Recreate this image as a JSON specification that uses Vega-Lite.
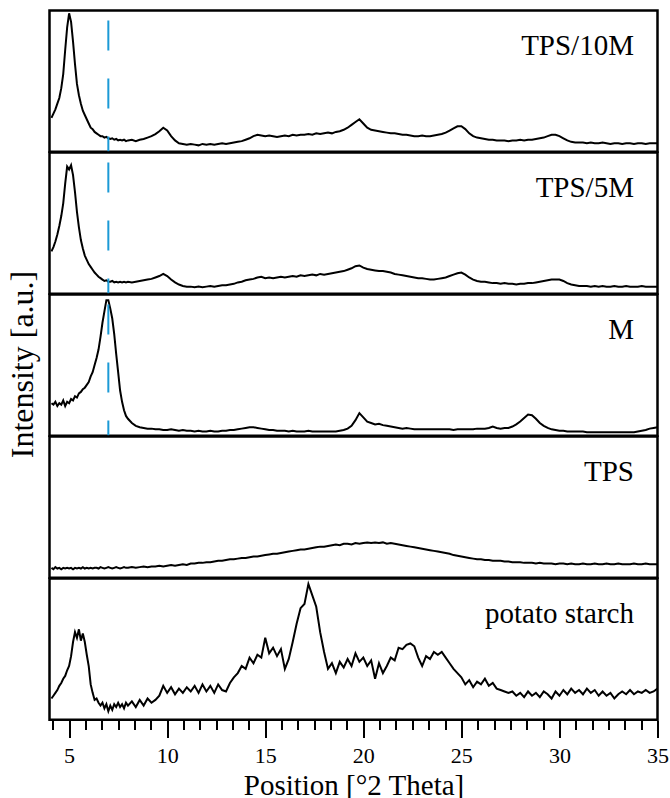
{
"$schema": "https://vega.github.io/schema/vega-lite/v6.json",
"background": "white",
"padding": {"left": 5.5, "top": 7.5, "right": 12, "bottom": 0},
"bounds": "flush",
"data": {"values": [
{"x":4.1,"TPS/10M":24,"TPS/5M":30,"M":23,"TPS":7,"potato starch":15},
{"x":4.2,"TPS/10M":27,"TPS/5M":33,"M":22,"TPS":6,"potato starch":17},
{"x":4.3,"TPS/10M":30,"TPS/5M":37,"M":24,"TPS":7.5,"potato starch":19},
{"x":4.4,"TPS/10M":34,"TPS/5M":42,"M":21,"TPS":6.5,"potato starch":21},
{"x":4.5,"TPS/10M":38,"TPS/5M":48,"M":23,"TPS":7,"potato starch":24},
{"x":4.6,"TPS/10M":45,"TPS/5M":55,"M":22,"TPS":6,"potato starch":26},
{"x":4.7,"TPS/10M":55,"TPS/5M":64,"M":25,"TPS":7,"potato starch":29},
{"x":4.8,"TPS/10M":72,"TPS/5M":78,"M":21,"TPS":6.5,"potato starch":31},
{"x":4.9,"TPS/10M":88,"TPS/5M":90,"M":24,"TPS":7,"potato starch":35},
{"x":5.0,"TPS/10M":98,"TPS/5M":88,"M":23,"TPS":6.5,"potato starch":38},
{"x":5.1,"TPS/10M":92,"TPS/5M":91,"M":26,"TPS":7,"potato starch":45},
{"x":5.2,"TPS/10M":78,"TPS/5M":84,"M":25,"TPS":6,"potato starch":55},
{"x":5.3,"TPS/10M":62,"TPS/5M":72,"M":28,"TPS":7,"potato starch":62},
{"x":5.4,"TPS/10M":48,"TPS/5M":58,"M":27,"TPS":6.5,"potato starch":58},
{"x":5.5,"TPS/10M":40,"TPS/5M":47,"M":30,"TPS":7,"potato starch":64},
{"x":5.6,"TPS/10M":34,"TPS/5M":38,"M":31,"TPS":6.5,"potato starch":56},
{"x":5.7,"TPS/10M":29,"TPS/5M":32,"M":33,"TPS":7.5,"potato starch":61},
{"x":5.8,"TPS/10M":26,"TPS/5M":27,"M":34,"TPS":6.5,"potato starch":55},
{"x":5.9,"TPS/10M":23,"TPS/5M":24,"M":36,"TPS":7,"potato starch":46},
{"x":6.0,"TPS/10M":20,"TPS/5M":21,"M":38,"TPS":6.5,"potato starch":38},
{"x":6.1,"TPS/10M":17,"TPS/5M":19,"M":42,"TPS":7,"potato starch":25},
{"x":6.2,"TPS/10M":16,"TPS/5M":17,"M":45,"TPS":6.5,"potato starch":19},
{"x":6.3,"TPS/10M":14,"TPS/5M":15,"M":50,"TPS":7,"potato starch":14},
{"x":6.4,"TPS/10M":13,"TPS/5M":13.5,"M":55,"TPS":7,"potato starch":15},
{"x":6.5,"TPS/10M":12,"TPS/5M":12,"M":61,"TPS":6.5,"potato starch":12},
{"x":6.6,"TPS/10M":11,"TPS/5M":11,"M":70,"TPS":7.5,"potato starch":10},
{"x":6.7,"TPS/10M":11,"TPS/5M":10,"M":80,"TPS":7,"potato starch":12},
{"x":6.8,"TPS/10M":10,"TPS/5M":9,"M":88,"TPS":6.5,"potato starch":8},
{"x":6.9,"TPS/10M":10.5,"TPS/5M":9.5,"M":96,"TPS":7,"potato starch":11},
{"x":7.0,"TPS/10M":9.5,"TPS/5M":8.5,"M":96,"TPS":7.5,"potato starch":6},
{"x":7.1,"TPS/10M":9,"TPS/5M":8.5,"M":90,"TPS":7,"potato starch":10},
{"x":7.2,"TPS/10M":9.5,"TPS/5M":9,"M":83,"TPS":6.5,"potato starch":7},
{"x":7.3,"TPS/10M":8.5,"TPS/5M":8,"M":72,"TPS":7,"potato starch":11},
{"x":7.4,"TPS/10M":9,"TPS/5M":8.5,"M":58,"TPS":7.5,"potato starch":9},
{"x":7.5,"TPS/10M":8,"TPS/5M":8,"M":45,"TPS":7,"potato starch":12},
{"x":7.6,"TPS/10M":8.5,"TPS/5M":8.5,"M":32,"TPS":6.5,"potato starch":9},
{"x":7.7,"TPS/10M":8,"TPS/5M":8,"M":24,"TPS":7,"potato starch":11},
{"x":7.8,"TPS/10M":8.5,"TPS/5M":8.5,"M":18,"TPS":7.5,"potato starch":8},
{"x":7.9,"TPS/10M":7.5,"TPS/5M":8,"M":14,"TPS":7,"potato starch":12},
{"x":8.0,"TPS/10M":8,"TPS/5M":8.5,"M":12,"TPS":7,"potato starch":10},
{"x":8.2,"TPS/10M":8.5,"TPS/5M":8,"M":9,"TPS":7.5,"potato starch":13},
{"x":8.4,"TPS/10M":7.5,"TPS/5M":8.5,"M":7,"TPS":7,"potato starch":9},
{"x":8.6,"TPS/10M":8.5,"TPS/5M":9,"M":6,"TPS":7.5,"potato starch":14},
{"x":8.8,"TPS/10M":9,"TPS/5M":9.5,"M":5.5,"TPS":8,"potato starch":10},
{"x":9.0,"TPS/10M":10,"TPS/5M":10,"M":5,"TPS":7.5,"potato starch":15},
{"x":9.2,"TPS/10M":11,"TPS/5M":10.5,"M":5,"TPS":8,"potato starch":12},
{"x":9.4,"TPS/10M":12.5,"TPS/5M":11.5,"M":4.5,"TPS":8,"potato starch":14},
{"x":9.6,"TPS/10M":14.5,"TPS/5M":12.5,"M":4.5,"TPS":8.5,"potato starch":17},
{"x":9.8,"TPS/10M":17,"TPS/5M":14,"M":4,"TPS":8,"potato starch":24},
{"x":10.0,"TPS/10M":15,"TPS/5M":12.5,"M":4,"TPS":8.5,"potato starch":19},
{"x":10.2,"TPS/10M":11,"TPS/5M":10,"M":4.5,"TPS":9,"potato starch":23},
{"x":10.4,"TPS/10M":8,"TPS/5M":8,"M":4,"TPS":8.5,"potato starch":18},
{"x":10.6,"TPS/10M":6,"TPS/5M":6.5,"M":3.5,"TPS":9,"potato starch":22},
{"x":10.8,"TPS/10M":5.5,"TPS/5M":5.5,"M":4,"TPS":9.5,"potato starch":19},
{"x":11.0,"TPS/10M":5,"TPS/5M":5,"M":3.5,"TPS":9,"potato starch":23},
{"x":11.2,"TPS/10M":5.5,"TPS/5M":5,"M":3.5,"TPS":10,"potato starch":20},
{"x":11.4,"TPS/10M":5,"TPS/5M":4.5,"M":3,"TPS":10,"potato starch":24},
{"x":11.6,"TPS/10M":4.5,"TPS/5M":5,"M":3.5,"TPS":10.5,"potato starch":19},
{"x":11.8,"TPS/10M":5.5,"TPS/5M":4.5,"M":3,"TPS":10.5,"potato starch":25},
{"x":12.0,"TPS/10M":5,"TPS/5M":5,"M":3,"TPS":11,"potato starch":20},
{"x":12.2,"TPS/10M":5.5,"TPS/5M":5.5,"M":3.5,"TPS":11,"potato starch":24},
{"x":12.4,"TPS/10M":5,"TPS/5M":5,"M":3,"TPS":11.5,"potato starch":19},
{"x":12.6,"TPS/10M":5.5,"TPS/5M":5.5,"M":3,"TPS":12,"potato starch":25},
{"x":12.8,"TPS/10M":6,"TPS/5M":6,"M":3.5,"TPS":12,"potato starch":21},
{"x":13.0,"TPS/10M":5.5,"TPS/5M":6,"M":3.5,"TPS":12.5,"potato starch":20},
{"x":13.2,"TPS/10M":6,"TPS/5M":6.5,"M":4,"TPS":13,"potato starch":26},
{"x":13.4,"TPS/10M":6.5,"TPS/5M":7,"M":4,"TPS":13,"potato starch":30},
{"x":13.6,"TPS/10M":7,"TPS/5M":8,"M":4.5,"TPS":13.5,"potato starch":33},
{"x":13.8,"TPS/10M":7.5,"TPS/5M":8.5,"M":5,"TPS":14,"potato starch":38},
{"x":14.0,"TPS/10M":8.5,"TPS/5M":9.5,"M":5.5,"TPS":14,"potato starch":36},
{"x":14.2,"TPS/10M":9.5,"TPS/5M":10,"M":6,"TPS":14.5,"potato starch":44},
{"x":14.4,"TPS/10M":11,"TPS/5M":10.5,"M":6,"TPS":15,"potato starch":40},
{"x":14.6,"TPS/10M":12,"TPS/5M":11.5,"M":5.5,"TPS":15,"potato starch":46},
{"x":14.8,"TPS/10M":11.5,"TPS/5M":12,"M":5,"TPS":15.5,"potato starch":44},
{"x":15.0,"TPS/10M":11,"TPS/5M":11,"M":4.5,"TPS":16,"potato starch":58},
{"x":15.2,"TPS/10M":11.5,"TPS/5M":11.5,"M":4,"TPS":16.5,"potato starch":47},
{"x":15.4,"TPS/10M":11,"TPS/5M":11,"M":4,"TPS":17,"potato starch":51},
{"x":15.6,"TPS/10M":10.5,"TPS/5M":11.5,"M":3.5,"TPS":17,"potato starch":45},
{"x":15.8,"TPS/10M":11,"TPS/5M":12,"M":3.5,"TPS":17.5,"potato starch":50},
{"x":16.0,"TPS/10M":11.5,"TPS/5M":11.5,"M":3.5,"TPS":18,"potato starch":36},
{"x":16.2,"TPS/10M":11,"TPS/5M":12,"M":3,"TPS":18.5,"potato starch":43},
{"x":16.4,"TPS/10M":12,"TPS/5M":12.5,"M":3.5,"TPS":19,"potato starch":55},
{"x":16.6,"TPS/10M":11.5,"TPS/5M":12,"M":3,"TPS":19.5,"potato starch":68},
{"x":16.8,"TPS/10M":12,"TPS/5M":13,"M":3,"TPS":20,"potato starch":79},
{"x":17.0,"TPS/10M":12,"TPS/5M":12.5,"M":3,"TPS":20,"potato starch":82},
{"x":17.2,"TPS/10M":12.5,"TPS/5M":13,"M":3.5,"TPS":20.5,"potato starch":96},
{"x":17.4,"TPS/10M":12,"TPS/5M":13.5,"M":3,"TPS":21,"potato starch":88},
{"x":17.6,"TPS/10M":13,"TPS/5M":13,"M":3,"TPS":21.5,"potato starch":80},
{"x":17.8,"TPS/10M":12.5,"TPS/5M":14,"M":3,"TPS":22,"potato starch":62},
{"x":18.0,"TPS/10M":13,"TPS/5M":13.5,"M":3,"TPS":22,"potato starch":48},
{"x":18.2,"TPS/10M":13.5,"TPS/5M":14,"M":3,"TPS":22.5,"potato starch":36},
{"x":18.4,"TPS/10M":13,"TPS/5M":14.5,"M":3,"TPS":23,"potato starch":40},
{"x":18.6,"TPS/10M":14,"TPS/5M":15,"M":3,"TPS":23.5,"potato starch":33},
{"x":18.8,"TPS/10M":14.5,"TPS/5M":15.5,"M":3.5,"TPS":23,"potato starch":41},
{"x":19.0,"TPS/10M":15.5,"TPS/5M":16,"M":4,"TPS":24,"potato starch":37},
{"x":19.2,"TPS/10M":17,"TPS/5M":17,"M":5,"TPS":24,"potato starch":43},
{"x":19.4,"TPS/10M":19,"TPS/5M":18,"M":7,"TPS":23.5,"potato starch":38},
{"x":19.6,"TPS/10M":21,"TPS/5M":19.5,"M":11,"TPS":24.5,"potato starch":47},
{"x":19.8,"TPS/10M":23,"TPS/5M":20,"M":16,"TPS":24,"potato starch":41},
{"x":20.0,"TPS/10M":20,"TPS/5M":18.5,"M":13,"TPS":24.5,"potato starch":44},
{"x":20.2,"TPS/10M":17,"TPS/5M":17.5,"M":10,"TPS":25,"potato starch":38},
{"x":20.4,"TPS/10M":15.5,"TPS/5M":17,"M":9,"TPS":24.5,"potato starch":42},
{"x":20.6,"TPS/10M":15,"TPS/5M":16.5,"M":8,"TPS":25,"potato starch":29},
{"x":20.8,"TPS/10M":14.5,"TPS/5M":16,"M":8.5,"TPS":24.5,"potato starch":40},
{"x":21.0,"TPS/10M":14,"TPS/5M":16,"M":7.5,"TPS":25,"potato starch":33},
{"x":21.2,"TPS/10M":13.5,"TPS/5M":15.5,"M":7,"TPS":24,"potato starch":38},
{"x":21.4,"TPS/10M":13,"TPS/5M":15,"M":6.5,"TPS":24.5,"potato starch":44},
{"x":21.6,"TPS/10M":13,"TPS/5M":14,"M":6,"TPS":24,"potato starch":42},
{"x":21.8,"TPS/10M":12.5,"TPS/5M":13.5,"M":5.5,"TPS":23.5,"potato starch":51},
{"x":22.0,"TPS/10M":12,"TPS/5M":13,"M":5,"TPS":23,"potato starch":50},
{"x":22.2,"TPS/10M":12,"TPS/5M":12.5,"M":5.5,"TPS":22.5,"potato starch":53},
{"x":22.4,"TPS/10M":11.5,"TPS/5M":12,"M":5,"TPS":22,"potato starch":54},
{"x":22.6,"TPS/10M":11,"TPS/5M":11.5,"M":4.5,"TPS":21.5,"potato starch":52},
{"x":22.8,"TPS/10M":11,"TPS/5M":11,"M":4.5,"TPS":21,"potato starch":44},
{"x":23.0,"TPS/10M":11.5,"TPS/5M":11,"M":4.5,"TPS":20.5,"potato starch":38},
{"x":23.2,"TPS/10M":11,"TPS/5M":10.5,"M":4.5,"TPS":20,"potato starch":45},
{"x":23.4,"TPS/10M":11,"TPS/5M":10,"M":4.5,"TPS":19.5,"potato starch":43},
{"x":23.6,"TPS/10M":11.5,"TPS/5M":10,"M":4.5,"TPS":19,"potato starch":48},
{"x":23.8,"TPS/10M":12,"TPS/5M":10.5,"M":4.5,"TPS":18.5,"potato starch":46},
{"x":24.0,"TPS/10M":12.5,"TPS/5M":11,"M":4.5,"TPS":18,"potato starch":48},
{"x":24.2,"TPS/10M":13.5,"TPS/5M":11.5,"M":4.5,"TPS":17.5,"potato starch":44},
{"x":24.4,"TPS/10M":15,"TPS/5M":12.5,"M":4.5,"TPS":17,"potato starch":40},
{"x":24.6,"TPS/10M":16.5,"TPS/5M":13.5,"M":4,"TPS":16,"potato starch":36},
{"x":24.8,"TPS/10M":18,"TPS/5M":14.5,"M":4.5,"TPS":15.5,"potato starch":33},
{"x":25.0,"TPS/10M":18,"TPS/5M":15,"M":4.5,"TPS":15,"potato starch":30},
{"x":25.2,"TPS/10M":16,"TPS/5M":13.5,"M":4.5,"TPS":14.5,"potato starch":25},
{"x":25.4,"TPS/10M":13,"TPS/5M":11.5,"M":4.5,"TPS":14,"potato starch":28},
{"x":25.6,"TPS/10M":11,"TPS/5M":10,"M":4.5,"TPS":13.5,"potato starch":23},
{"x":25.8,"TPS/10M":10,"TPS/5M":9,"M":5,"TPS":13,"potato starch":27},
{"x":26.0,"TPS/10M":9.5,"TPS/5M":8.5,"M":5,"TPS":13,"potato starch":25},
{"x":26.2,"TPS/10M":9,"TPS/5M":8.5,"M":5,"TPS":12.5,"potato starch":29},
{"x":26.4,"TPS/10M":8.5,"TPS/5M":8,"M":5.5,"TPS":12.5,"potato starch":24},
{"x":26.6,"TPS/10M":8.5,"TPS/5M":7.5,"M":6.5,"TPS":12,"potato starch":26},
{"x":26.8,"TPS/10M":8,"TPS/5M":7.5,"M":5.5,"TPS":12,"potato starch":22},
{"x":27.0,"TPS/10M":8,"TPS/5M":7,"M":5,"TPS":12,"potato starch":21},
{"x":27.2,"TPS/10M":8,"TPS/5M":7.5,"M":5.5,"TPS":11.5,"potato starch":20},
{"x":27.4,"TPS/10M":7.5,"TPS/5M":7,"M":5.5,"TPS":11.5,"potato starch":19},
{"x":27.6,"TPS/10M":8,"TPS/5M":7,"M":6.5,"TPS":11,"potato starch":20},
{"x":27.8,"TPS/10M":8,"TPS/5M":6.5,"M":8,"TPS":11,"potato starch":17},
{"x":28.0,"TPS/10M":8.5,"TPS/5M":7,"M":10,"TPS":11,"potato starch":19},
{"x":28.2,"TPS/10M":8,"TPS/5M":7,"M":12.5,"TPS":10.5,"potato starch":16},
{"x":28.4,"TPS/10M":8.5,"TPS/5M":7.5,"M":15,"TPS":10.5,"potato starch":20},
{"x":28.6,"TPS/10M":8.5,"TPS/5M":7.5,"M":14.5,"TPS":10.5,"potato starch":17},
{"x":28.8,"TPS/10M":9,"TPS/5M":8,"M":12,"TPS":10,"potato starch":19},
{"x":29.0,"TPS/10M":9.5,"TPS/5M":8.5,"M":9,"TPS":10.5,"potato starch":16},
{"x":29.2,"TPS/10M":10,"TPS/5M":9,"M":7,"TPS":10,"potato starch":20},
{"x":29.4,"TPS/10M":11,"TPS/5M":9.5,"M":5.5,"TPS":10,"potato starch":18},
{"x":29.6,"TPS/10M":12,"TPS/5M":10,"M":4.5,"TPS":10,"potato starch":15},
{"x":29.8,"TPS/10M":12,"TPS/5M":10,"M":4,"TPS":9.5,"potato starch":20},
{"x":30.0,"TPS/10M":11,"TPS/5M":10,"M":3.5,"TPS":10,"potato starch":17},
{"x":30.2,"TPS/10M":9.5,"TPS/5M":9,"M":3.5,"TPS":10,"potato starch":21},
{"x":30.4,"TPS/10M":8,"TPS/5M":7.5,"M":3,"TPS":9.5,"potato starch":18},
{"x":30.6,"TPS/10M":7,"TPS/5M":6.5,"M":3,"TPS":10,"potato starch":22},
{"x":30.8,"TPS/10M":6.5,"TPS/5M":6,"M":3,"TPS":9.5,"potato starch":19},
{"x":31.0,"TPS/10M":6.5,"TPS/5M":5.5,"M":3,"TPS":9.5,"potato starch":21},
{"x":31.2,"TPS/10M":6.5,"TPS/5M":5.5,"M":3,"TPS":10,"potato starch":18},
{"x":31.4,"TPS/10M":6,"TPS/5M":5.5,"M":2.5,"TPS":9.5,"potato starch":22},
{"x":31.6,"TPS/10M":6.5,"TPS/5M":5,"M":2.5,"TPS":9.5,"potato starch":19},
{"x":31.8,"TPS/10M":6,"TPS/5M":5.5,"M":2.5,"TPS":10,"potato starch":21},
{"x":32.0,"TPS/10M":6,"TPS/5M":5,"M":2.5,"TPS":9.5,"potato starch":17},
{"x":32.2,"TPS/10M":6.5,"TPS/5M":5.5,"M":2.5,"TPS":9.5,"potato starch":20},
{"x":32.4,"TPS/10M":6,"TPS/5M":5,"M":2.5,"TPS":10,"potato starch":17},
{"x":32.6,"TPS/10M":5.5,"TPS/5M":5,"M":2.5,"TPS":9.5,"potato starch":19},
{"x":32.8,"TPS/10M":6,"TPS/5M":5.5,"M":2.5,"TPS":9.5,"potato starch":15},
{"x":33.0,"TPS/10M":6,"TPS/5M":5,"M":2.5,"TPS":10,"potato starch":18},
{"x":33.2,"TPS/10M":5.5,"TPS/5M":5,"M":2.5,"TPS":9.5,"potato starch":20},
{"x":33.4,"TPS/10M":6,"TPS/5M":5.5,"M":2.5,"TPS":9.5,"potato starch":18},
{"x":33.6,"TPS/10M":6,"TPS/5M":5,"M":2.5,"TPS":9.5,"potato starch":21},
{"x":33.8,"TPS/10M":5.5,"TPS/5M":5,"M":2.5,"TPS":10,"potato starch":18},
{"x":34.0,"TPS/10M":6,"TPS/5M":5,"M":3,"TPS":9.5,"potato starch":20},
{"x":34.2,"TPS/10M":6,"TPS/5M":5.5,"M":3.5,"TPS":9.5,"potato starch":19},
{"x":34.4,"TPS/10M":5.5,"TPS/5M":5,"M":4,"TPS":10,"potato starch":21},
{"x":34.6,"TPS/10M":6,"TPS/5M":5,"M":5,"TPS":9.5,"potato starch":19},
{"x":34.8,"TPS/10M":6,"TPS/5M":5,"M":5.5,"TPS":9.5,"potato starch":20},
{"x":35.0,"TPS/10M":6,"TPS/5M":5,"M":6,"TPS":9.5,"potato starch":22}
]},
"transform": [{"fold": ["TPS/10M", "TPS/5M", "M", "TPS", "potato starch"], "as": ["sample", "y"]}],
"facet": {"row": {"field": "sample", "type": "nominal", "sort": ["TPS/10M", "TPS/5M", "M", "TPS", "potato starch"],
  "header": {"labels": false, "labelPadding": 0, "title": "Intensity [a.u.]", "titleFont": "Liberation Serif", "titleFontSize": 32, "titleFontWeight": "normal", "titleColor": "black", "titlePadding": 0}}},
"spacing": {"row": 0, "column": 0},
"spec": {
  "width": 608, "height": 141.2,
  "resolve": {"axis": {"x": "independent"}},
  "layer": [
    {"mark": {"type": "line", "color": "black", "strokeWidth": 2, "clip": true},
     "encoding": {
       "x": {"field": "x", "type": "quantitative", "scale": {"domain": [4, 35], "nice": false, "zero": false},
             "axis": {"orient": "bottom", "values": [5, 10, 15, 20, 25, 30, 35], "format": "d",
                      "tickSize": 17, "tickWidth": 2, "tickColor": "black", "domain": false, "grid": false,
                      "labelFont": "Liberation Serif", "labelFontSize": 22, "labelColor": "black", "labelPadding": 8, "labelOverlap": false, "labelFlush": false,
                      "title": "Position [°2 Theta]", "titleFont": "Liberation Serif", "titleFontSize": 29, "titleFontWeight": "normal", "titleColor": "black", "titlePadding": 5}},
       "y": {"field": "y", "type": "quantitative", "scale": {"domain": [0, 100], "nice": false, "zero": false}, "axis": null}
     }},
    {"transform": [{"filter": "datum.x == 35"}],
     "mark": {"type": "text", "align": "right", "baseline": "middle", "font": "Liberation Serif", "fontSize": 29, "color": "black"},
     "encoding": {"x": {"datum": 33.8, "axis": null}, "y": {"datum": 75}, "text": {"field": "sample"}}},
    {"transform": [{"filter": "datum.x == 35 && indexof(['TPS/10M','TPS/5M','M'], datum.sample) >= 0"}],
     "mark": {"type": "rule", "color": "#1b9ad6", "strokeWidth": 2, "strokeDash": [30, 28], "strokeDashOffset": 48},
     "encoding": {"x": {"datum": 7, "axis": {"orient": "bottom", "values": [4.1667, 5.8333, 6.6667, 7.5, 8.3333, 9.1667, 10.8333, 11.6667, 12.5, 13.3333, 14.1667, 15.8333, 16.6667, 17.5, 18.3333, 19.1667, 20.8333, 21.6667, 22.5, 23.3333, 24.1667, 25.8333, 26.6667, 27.5, 28.3333, 29.1667, 30.8333, 31.6667, 32.5, 33.3333, 34.1667],
                      "tickCount": 100, "tickSize": 9, "tickWidth": 2, "tickColor": "black", "labels": false, "domain": false, "grid": false, "title": null}}}}
  ]
},
"config": {"view": {"stroke": "black", "strokeWidth": 2.5}, "font": "Liberation Serif", "facet": {"spacing": 0}}
}
